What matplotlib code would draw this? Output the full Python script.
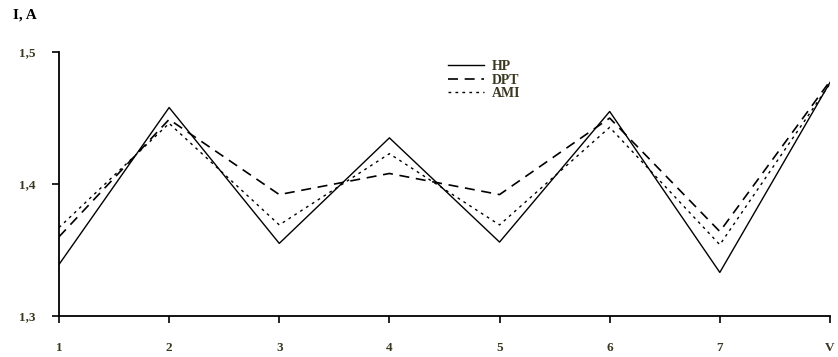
import numpy as np
import matplotlib.pyplot as plt
from matplotlib.ticker import FixedLocator, FixedFormatter

# ============================================================
# DATA
# ============================================================

points = [1, 2, 3, 4, 5, 6, 7, 8]
hp = [1.339, 1.458, 1.355, 1.435, 1.356, 1.455, 1.333, 1.477]
dpt = [1.360, 1.449, 1.392, 1.408, 1.392, 1.450, 1.364, 1.478]
ami = [1.367, 1.446, 1.369, 1.423, 1.369, 1.443, 1.354, 1.476]

x_tick_labels = ["1", "2", "3", "4", "5", "6", "7", "V"]
y_ticks = [1.3, 1.4, 1.5]
y_tick_labels = ["1,3", "1,4", "1,5"]

# ============================================================
# STYLE
# ============================================================

plt.rcParams.update({
    "font.family": "Liberation Serif",
    "font.weight": "bold",
    "font.size": 9,
})

TICK_COLOR = "#3a3820"

fig = plt.figure(figsize=(8.38, 3.57), dpi=100)
ax = fig.add_axes([0.0704, 0.115, 0.920, 0.739])

ax.plot(points, hp, color="black", linewidth=1.0, label="HP")
ax.plot(points, dpt, color="black", linewidth=1.2,
        linestyle=(0, (6, 4)), label="DPT")
ax.plot(points, ami, color="black", linewidth=1.0,
        linestyle=(0, (2, 3)), label="AMI")

ax.set_xlim(1, 8)
ax.set_ylim(1.3, 1.5)

ax.xaxis.set_major_locator(FixedLocator(points))
ax.xaxis.set_major_formatter(FixedFormatter(x_tick_labels))
ax.yaxis.set_major_locator(FixedLocator(y_ticks))
ax.yaxis.set_major_formatter(FixedFormatter(y_tick_labels))

ax.spines["top"].set_visible(False)
ax.spines["right"].set_visible(False)
for side in ("left", "bottom"):
    ax.spines[side].set_linewidth(1.3)

ax.tick_params(axis="x", direction="out", length=5, width=1.2,
               pad=14, labelcolor=TICK_COLOR, labelsize=9.5)
ax.tick_params(axis="y", direction="out", length=5, width=1.2,
               pad=12, labelcolor=TICK_COLOR, labelsize=9.5)

# axis caption in the top-left corner
fig.text(0.015, 0.975, "I, A", ha="left", va="top",
         fontsize=11, fontweight="bold")

ax.legend(loc="upper left", bbox_to_anchor=(0.497, 0.99),
          frameon=False, handlelength=2.6, handletextpad=0.6,
          labelspacing=0.02, fontsize=10,
          labelcolor=TICK_COLOR, borderaxespad=0.0)

fig.savefig("out.png", dpi=100)
